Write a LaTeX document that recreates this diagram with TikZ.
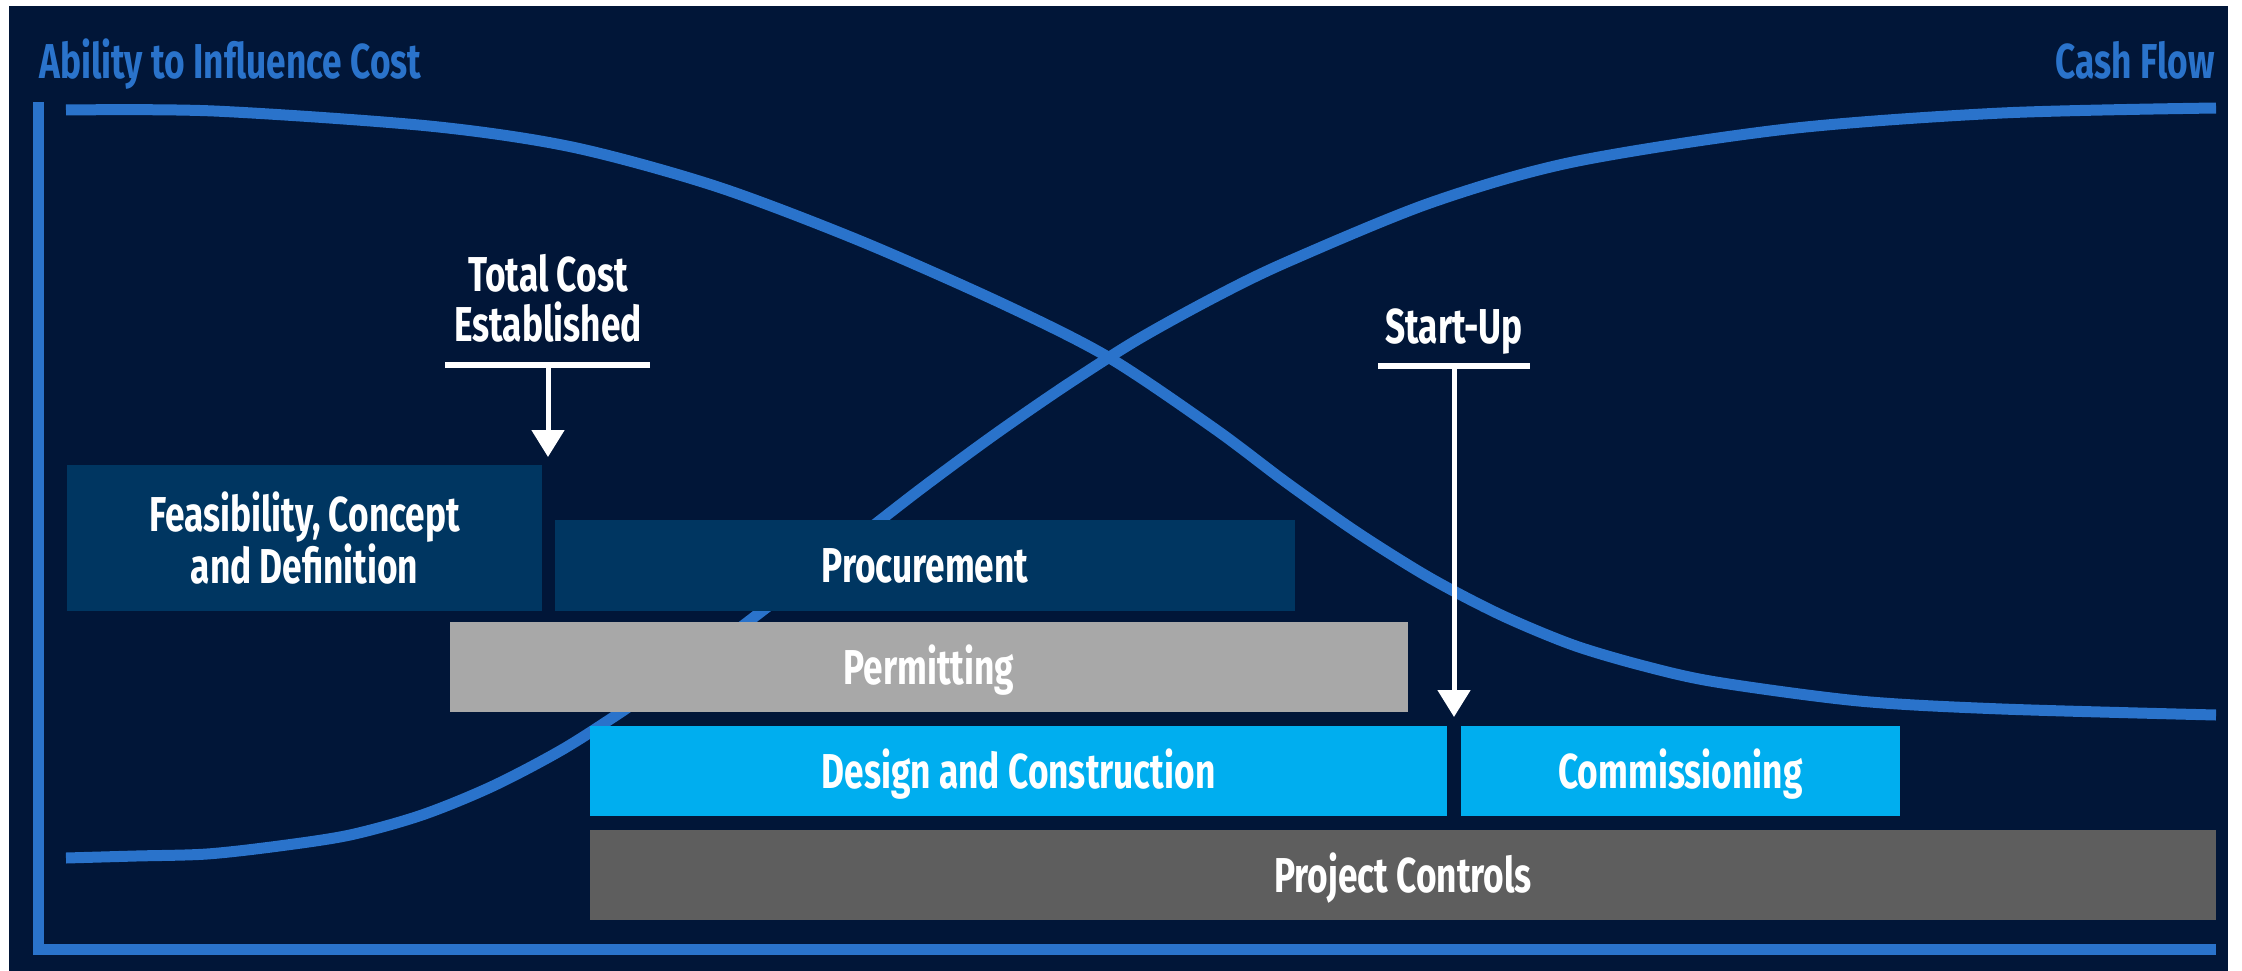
\documentclass[tikz,border=0pt]{standalone}
\usepackage{fontspec}
\setmainfont{Fira Sans}[FakeStretch=0.72]
\usetikzlibrary{arrows.meta}

\definecolor{navy}{HTML}{011638}
\definecolor{curveblue}{HTML}{2A73CB}
\definecolor{phaseblue}{HTML}{003661}
\definecolor{permitgrey}{HTML}{A8A8A8}
\definecolor{buildcyan}{HTML}{00AEEF}
\definecolor{controlgrey}{HTML}{5E5E5E}

\newcommand\labelfont{\fontsize{49}{50}\selectfont\bfseries}
\newcommand\axisfont{\fontsize{49}{50}\selectfont\bfseries}

\begin{document}
\begin{tikzpicture}[x=1pt,y=-1pt,
  phasebox/.style={anchor=north west, inner sep=0pt, outer sep=0pt,
    text=white, font=\labelfont, align=center},
  oneline/.style={text height=34pt, text depth=0pt},
  curve/.style={curveblue, line width=11pt},
  axisline/.style={curveblue, line width=11pt, line join=miter},
  axislabel/.style={text=curveblue, font=\axisfont, inner sep=0pt},
  milestone/.style={text=white, font=\labelfont, align=center, inner sep=0pt},
  bar/.style={white, line width=6pt},
  pointer/.style={white, line width=5pt, -{Triangle[width=32pt,length=27pt]}}]

\useasboundingbox (0,0) rectangle (2242,971);
\fill[white] (0,0) rectangle (2242,971);
\fill[navy] (9,6) rectangle (2228,971);

% axes
\coordinate (ytop) at (38,102);
\coordinate (origin) at (38,949);
\coordinate (xend) at (2216,949);
\draw[axisline] (ytop) -- (origin) -- (xend);

\node[axislabel, anchor=base west] (influence) at (39,79) {Ability to Influence Cost};
\node[axislabel, anchor=base east] (cashflow) at (2215,79) {Cash Flow};

% ability to influence cost (falling)
\draw[curve] plot[smooth, tension=0.5] coordinates {
  (66,110) (214,111) (429,126) (572,147) (715,186) (858,240) (1001,303)
  (1108,357) (1215,429) (1287,483) (1358,533) (1430,578) (1501,615)
  (1573,645) (1644,666) (1716,682) (1859,701) (2002,709) (2216,715)};

% cash flow (rising)
\draw[curve] plot[smooth, tension=0.5] coordinates {
  (66,858) (136,856) (207,854) (279,846) (350,835) (422,815) (493,786)
  (565,748) (636,702) (708,652) (779,598) (851,543) (922,488) (994,435)
  (1065,386) (1137,340) (1215,297) (1287,262) (1430,203) (1573,162)
  (1787,129) (2002,113) (2216,108)};

% project phases
\node[phasebox, fill=phaseblue, minimum width=475pt, minimum height=146pt]
  (feas) at (67,465) {Feasibility, Concept\\and Definition};
\node[phasebox, oneline, fill=phaseblue, minimum width=740pt, minimum height=91pt]
  (proc) at (555,520) {Procurement};
\node[phasebox, oneline, fill=permitgrey, minimum width=958pt, minimum height=90pt]
  (permit) at (450,622) {Permitting};
\node[phasebox, oneline, fill=buildcyan, minimum width=857pt, minimum height=90pt]
  (design) at (590,726) {Design and Construction};
\node[phasebox, oneline, fill=buildcyan, minimum width=439pt, minimum height=90pt]
  (commission) at (1461,726) {Commissioning};
\node[phasebox, oneline, fill=controlgrey, minimum width=1626pt, minimum height=90pt]
  (controls) at (590,830) {Project Controls};

% milestones
\node[milestone, anchor=south] (totalcost) at (548,343) {Total Cost\\Established};
\coordinate (tcbar) at (548,365);
\coordinate (tctip) at (548,457);
\draw[bar] ([xshift=-103pt]tcbar) -- ([xshift=102pt]tcbar);
\draw[pointer] (tcbar) -- (tctip);

\node[milestone, anchor=base] (startup) at (1454,343) {Start-Up};
\coordinate (subar) at (1454,366);
\coordinate (sutip) at (1454,717);
\draw[bar] ([xshift=-76pt]subar) -- ([xshift=76pt]subar);
\draw[pointer] (subar) -- (sutip);

\end{tikzpicture}
\end{document}
